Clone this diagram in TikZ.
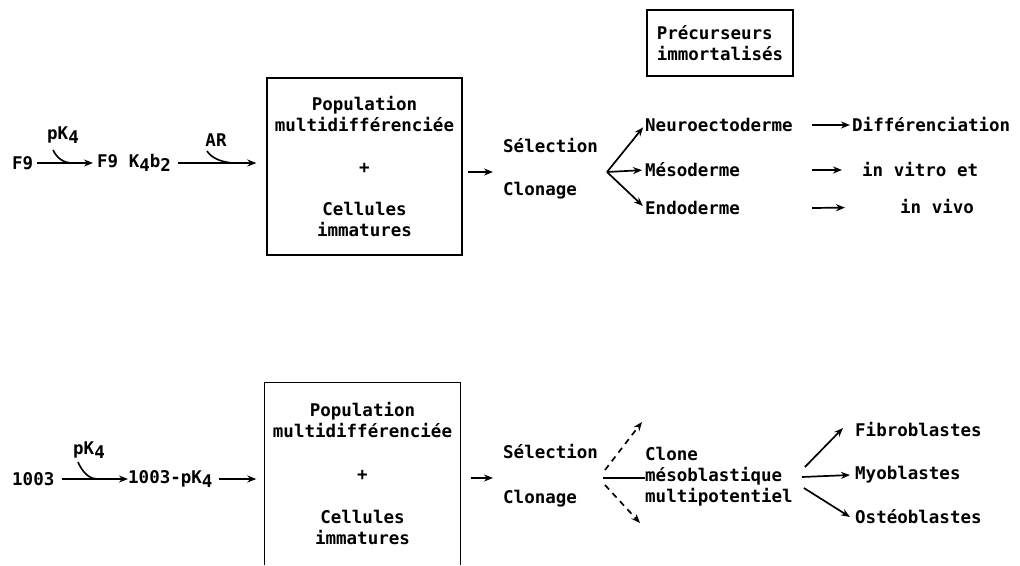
\documentclass[tikz,border=0pt]{standalone}
\usepackage{fontspec}
\setmainfont{DejaVu Sans Mono}
\usetikzlibrary{arrows.meta,positioning}
\newcommand{\lowr}[1]{\raisebox{-0.4ex}{#1}}

\begin{document}
\begin{tikzpicture}[x=1pt,y=-1pt]\tikzstyle{every node}=[font=\fontsize{17.5}{21}\selectfont\bfseries, inner sep=0pt]
\tikzset{arr/.style={line width=1.7pt, -{Stealth[length=9pt,width=7pt]}},
  hook/.style={line width=1.6pt},
  popbox/.style={minimum width=195pt, align=center, line width=1.4pt},
  dashline/.style={dash pattern=on 6pt off 5pt}}

   \useasboundingbox (0,0) rectangle (1020,565);

   % Top row
   \node[anchor=west] (f9) at (12,163) {F9};
   \node (pka) at (63,135) {pK\lowr{4}};
   \node[anchor=west] (f9k) at (97,163) {F9 K\lowr{4}b\lowr{2}};
   \node (ar) at (216,140) {AR};
   \node[popbox, draw, minimum height=177pt] (popa) at (364.5,166.5)
      {Population\\multidifférenciée\\[21pt]+\\[21pt]Cellules\\immatures};
   \node[anchor=west, align=left] (sela) at (503,168.5) {Sélection\\[22pt]Clonage};
   \node[draw, align=left, line width=1.4pt, minimum width=146pt, minimum height=66pt] (prec) at (720,43)
      {Précurseurs\\immortalisés};
   \coordinate (fka) at (607,172);
   \coordinate (col) at (812,0);

   \node[anchor=west] (neuro) at (645,125) {Neuroectoderme};
   \node[anchor=west] (meso) at (645,170) {Mésoderme};
   \node[anchor=west] (endo) at (645,208) {Endoderme};
   \node[anchor=west] (diff) at (852,125) {Différenciation};
   \node[anchor=west] (vitro) at (862,170) {in vitro et};
   \node[anchor=west] (vivo) at (900,207) {in vivo};

   % Arrows top
   \draw[arr, shorten <=4pt, shorten >=4pt] (f9) -- (f9k);
   \draw[hook] (pka.center) ++(-10,15) .. controls +(4,8) and +(-10,0) .. ++(20,13);
   \draw[arr, shorten <=7pt, shorten >=10pt] (f9k) -- (popa.west |- f9k);
   \draw[hook] (ar.center) ++(-9,11) .. controls +(5,8) and +(-12,0) .. ++(29,12);
   \draw[arr] ([shift={(5,5.5)}]popa.east) -- ([shift={(-10,3.5)}]sela.west);

   \foreach \n in {neuro,meso,endo}
     \draw[arr, shorten >=3pt] (fka) -- (\n.west);

   \draw[arr, shorten >=2pt] (neuro.east -| col) -- (diff.west);
   \draw[arr, shorten >=20pt] (meso.east -| col) -- (vitro.west);
   \draw[arr, shorten >=55pt] (endo.east -| col) -- (vivo.west);

   % Bottom row
   \node[anchor=west] (n1003) at (12,479) {1003};
   \node (pkb) at (89,450) {pK\lowr{4}};
   \node[anchor=west] (n1003p) at (128,479) {1003-pK\lowr{4}};
   \node[popbox, minimum height=181pt] (popb) at (362.5,473.5)
      {Population\\multidifférenciée\\[22pt]+\\[22pt]Cellules\\immatures};
   \draw[line width=1.4pt] (popb.south west) |- (popb.north east) -- (popb.south east);
   \node[anchor=west, align=left] (selb) at (503,475.5) {Sélection\\[24pt]Clonage};
   \coordinate (fkb) at (603,478);
   \coordinate (upb) at (642,422);
   \coordinate (dnb) at (640,523);
   \node[anchor=west, align=left] (clone) at (645,477) {Clone\\mésoblastique\\multipotentiel};

   \node[anchor=west] (fibro) at (855,430) {Fibroblastes};
   \node[anchor=west] (myo) at (855,475) {Myoblastes};
   \node[anchor=west] (osteo) at (855,517) {Ostéoblastes};

   % Arrows bottom
   \draw[arr, shorten <=7pt] (n1003) -- (n1003p);
   \draw[hook] (pkb.center) ++(-11,12) .. controls +(4,9) and +(-10,0) .. ++(20,17);
   \draw[arr, shorten <=6pt, shorten >=8pt] (n1003p) -- (popb.west |- n1003p);
   \draw[arr] ([shift={(10,4.5)}]popb.east) -- ([shift={(-10,2.5)}]selb.west);

   \draw[arr, dashline] ([shift={(2,-8)}]fkb) -- (upb);
   \draw[arr, dashline] ([shift={(2,7)}]fkb) -- (dnb);
   \draw[hook] (fkb) -- (clone.west |- fkb);

   \draw[arr] ([shift={(12,-10)}]clone.east) -- ([shift={(-12,-2)}]fibro.west);
   \draw[arr] ([shift={(9,0)}]clone.east) -- ([xshift=-5]myo.west);
   \draw[arr] ([shift={(11,11)}]clone.east) -- ([xshift=-5]osteo.west);

\end{tikzpicture}
\end{document}
